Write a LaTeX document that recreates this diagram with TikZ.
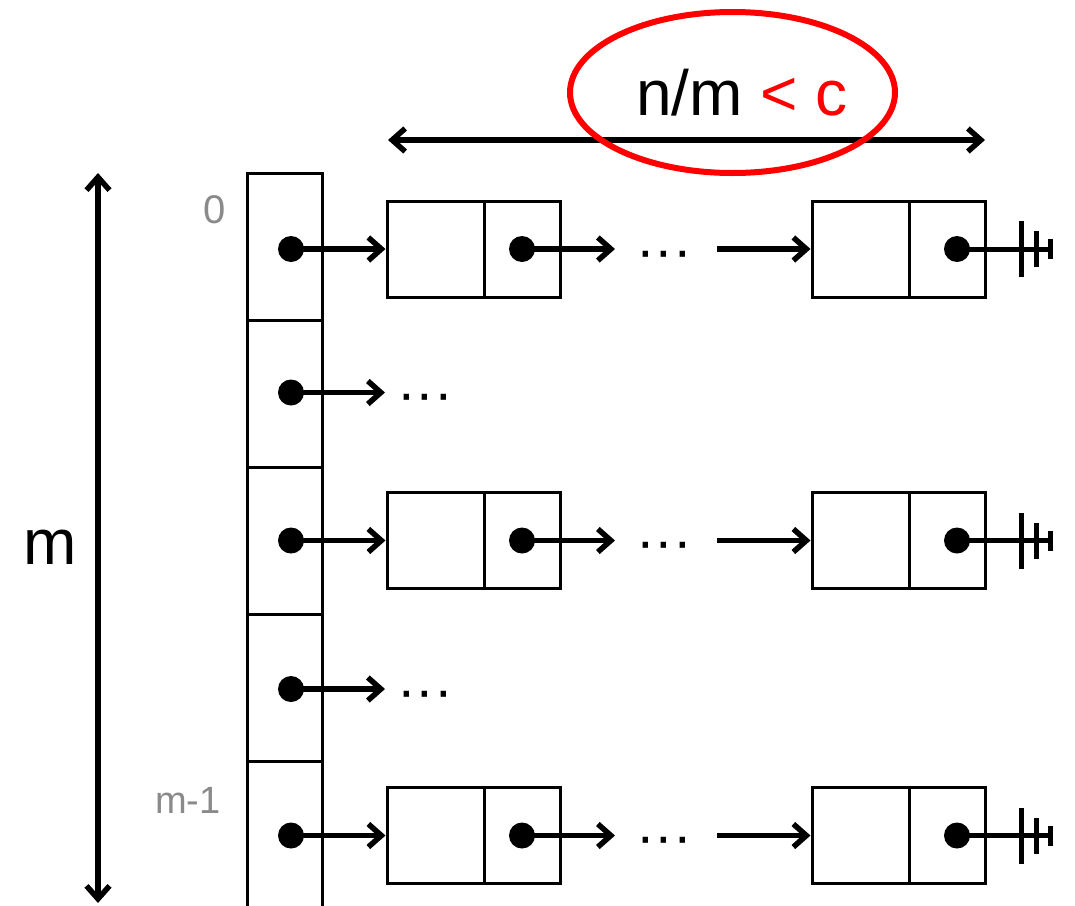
\documentclass[tikz,border=0pt]{standalone}
\usepackage{fontspec}
\setmainfont{Liberation Sans}
\usetikzlibrary{arrows.meta,shapes.geometric}
\definecolor{labelgray}{HTML}{8A8A8A}
\begin{document}
\begin{tikzpicture}[x=1pt,y=-1pt,
  cell/.style={draw, line width=3pt, minimum width=75pt, minimum height=147pt, inner sep=0pt},
  keybox/.style={draw, line width=3pt, minimum width=97pt, minimum height=96pt, inner sep=0pt},
  ptrbox/.style={draw, line width=3pt, minimum width=76pt, minimum height=96pt, inner sep=0pt},
  dot/.style={circle, fill, minimum size=26pt, inner sep=0pt},
  ptr/.style={line width=5.5pt, -{Straight Barb[length=13pt,width=23pt]}},
  dim/.style={line width=5.5pt, {Straight Barb[length=13pt,width=23pt]}-{Straight Barb[length=13pt,width=23pt]}},
  more/.style={inner sep=0pt, yshift=-11pt, font=\fontsize{56}{60}\selectfont},
  big/.style={inner sep=0pt, font=\fontsize{64}{70}\selectfont},
  idx/.style={inner sep=0pt, text=labelgray},
  ground/.style={line width=5pt}
]
\clip (0,0) rectangle (1075,905);
\fill[white] (0,0) rectangle (1075,905);

% bucket array
\foreach \i/\yy in {0/249,1/392.5,2/540.5,3/689,4/835.5}{
  \node[cell] (c\i) at (284.5,246.5+147*\i) {};
  \node[dot] (d\i) at (291,\yy) {};
}

% chains with several entries
\foreach \i/\yy in {0/249,2/540.5,4/835.5}{
  \node[keybox] (ka\i) at (435.5,\yy) {};
  \node[ptrbox] (pa\i) at (522,\yy) {};
  \node[dot] (da\i) at (522,\yy) {};
  \coordinate (ea\i) at (615,\yy);
  \node[more] (m\i) at (664,\yy) {···};
  \coordinate (sb\i) at (717,\yy);
  \node[keybox] (kb\i) at (860.5,\yy) {};
  \node[ptrbox] (pb\i) at (947,\yy) {};
  \node[dot] (db\i) at (957,\yy) {};
  \draw[ptr] (d\i.center) -- (ka\i.west);
  \draw[ptr] (da\i.center) -- (ea\i);
  \draw[ptr] (sb\i) -- (kb\i.west);
  % null terminator
  \coordinate (g\i) at (1053,\yy);
  \draw[ground] (db\i.center) -- (g\i);
  \draw[ground] ([xshift=-32pt,yshift=-28pt]g\i) -- ([xshift=-32pt,yshift=28pt]g\i);
  \draw[ground] ([xshift=-17pt,yshift=-18pt]g\i) -- ([xshift=-17pt,yshift=18pt]g\i);
  \draw[ground] ([xshift=-3pt,yshift=-10pt]g\i) -- ([xshift=-3pt,yshift=10pt]g\i);
}

% chains left open
\foreach \i/\yy in {1/392.5,3/689}{
  \coordinate (e\i) at (385,\yy);
  \draw[ptr] (d\i.center) -- (e\i);
  \node[more] (m\i) at (425,\yy) {···};
}

% index labels
\node[idx, font=\fontsize{40}{44}\selectfont] (i0) at (215,210) {0};
\node[idx, font=\fontsize{38}{42}\selectfont] (im) at (188,800) {m-1};

% table height
\coordinate (vt) at (98,173);
\coordinate (vb) at (98,903);
\draw[dim] (vt) -- (vb);
\node[big] (lm) at (50,547) {m};

% chain length
\coordinate (hl) at (388,140);
\coordinate (hr) at (985,140);
\draw[dim] (hl) -- (hr);
\node[big, anchor=base] (lf) at (742,115) {n/m \textcolor{red}{< c}};
\node[draw=red, line width=6pt, ellipse, minimum width=325pt, minimum height=161pt, inner sep=0pt] (ring) at (732.5,92.5) {};
\end{tikzpicture}
\end{document}
